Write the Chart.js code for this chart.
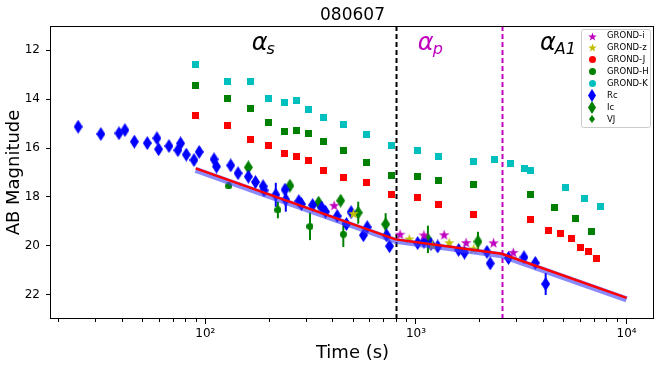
<!DOCTYPE html>
<html>
<head>
<meta charset="utf-8">
<script src="https://cdn.jsdelivr.net/npm/chart.js@4.4.1/dist/chart.umd.min.js"></script>
<style>
  html, body { margin: 0; padding: 0; background: #fff; }
</style>
</head>
<body>
<canvas id="lc" width="664" height="367"></canvas>
<script>
const chartTitle = '080607';
const xTickValues = [100, 1000, 10000];
const yTickValues = [12, 14, 16, 18, 20, 22];
const legendLabels = ['GROND-i', 'GROND-z', 'GROND-J', 'GROND-H', 'GROND-K', 'Rc', 'Ic', 'VJ'];

// GROND
const iTime = [409, 841, 1091, 1361, 1730, 2335, 2898];
const iMag = [18.34, 19.52, 19.55, 19.54, 19.86, 19.87, 20.26];
const zTime = [505, 929, 1197, 1439, 1879];
const zMag = [18.67, 19.71, 19.96, 19.86, 20.11];
const jTime = [90, 128, 163, 199, 237, 272, 308, 363, 454, 585, 763, 1019, 1276, 1884, 3505, 4249, 4831, 5449, 6030, 6608, 7211];
const jMag = [14.68, 15.10, 15.64, 15.89, 16.22, 16.34, 16.53, 16.93, 17.21, 17.42, 17.91, 18.04, 18.30, 18.71, 18.93, 19.38, 19.51, 19.71, 20.08, 20.24, 20.53];
const hTime = [90, 128, 163, 199, 237, 272, 308, 363, 454, 585, 763, 1019, 1276, 1884, 3505, 4535, 5733, 6829];
const hMag = [13.43, 13.96, 14.40, 14.95, 15.32, 15.29, 15.39, 15.74, 16.09, 16.58, 17.11, 17.18, 17.33, 17.50, 17.91, 18.44, 18.86, 19.39];
const kTime = [90, 128, 163, 199, 237, 272, 308, 363, 454, 585, 763, 1019, 1276, 1884, 2363, 2805, 3259, 3505, 5141, 6346, 7500];
const kMag = [12.60, 13.28, 13.27, 13.97, 14.15, 14.08, 14.42, 14.76, 15.06, 15.44, 15.91, 16.12, 16.34, 16.57, 16.46, 16.62, 16.83, 16.90, 17.62, 18.07, 18.37];

// other optical
const rcTime = [24.9, 31.9, 38.9, 41.5, 46.0, 53.0, 58.9, 60.0, 67.2, 76.3, 74.1, 81.2, 88.3, 93.5, 110, 113, 132, 143, 160, 173, 188, 190, 216, 239, 241, 278, 286, 323, 357, 372, 423, 492, 468, 587, 563, 726, 749, 1019, 1091, 1178, 1269, 1595, 1700, 2174, 2253, 2750, 3258, 3686, 4130];
const rcMag = [15.13, 15.43, 15.40, 15.27, 15.74, 15.80, 15.60, 16.05, 15.92, 15.81, 16.09, 16.27, 16.49, 16.16, 16.46, 16.76, 16.71, 17.03, 17.17, 17.39, 17.56, 17.73, 17.91, 17.70, 18.11, 18.17, 18.29, 18.33, 18.43, 18.60, 18.78, 18.62, 19.10, 19.23, 19.56, 19.57, 20.01, 19.88, 19.82, 19.92, 20.02, 20.16, 20.27, 20.24, 20.71, 20.49, 20.46, 20.69, 21.55];
const rcErr = [0, 0, 0, 0, 0, 0, 0, 0, 0, 0, 0, 0, 0, 0, 0, 0, 0, 0, 0, 0, 0, 0, 0.49, 0, 0.49, 0, 0, 0, 0, 0, 0, 0, 0, 0, 0, 0, 0, 0, 0, 0, 0, 0, 0, 0, 0, 0, 0, 0.2, 0.45];
const icTime = [160, 252, 345, 439, 532, 718, 1140, 1970];
const icMag = [16.79, 17.54, 18.23, 18.15, 18.64, 19.11, 19.73, 19.82];
const icErr = [0, 0, 0, 0, 0.45, 0.45, 0.56, 0.4];
const vjTime = [129, 221, 314, 452];
const vjMag = [17.55, 18.53, 19.20, 19.52];
const vjErr = [0, 0.34, 0.56, 0.52];

// broken power-law fit
const fitTime = [90, 800, 2550, 10000];
const fitMag = [16.83, 19.73, 20.32, 22.12];
const bandMag = [16.89, 19.79, 20.38, 22.18];
const breakTimes = [800, 2550];

const FONT = "'DejaVu Sans', sans-serif";
Chart.defaults.font.family = FONT;
Chart.defaults.color = '#000';

const colI = '#bf00bf', colZ = '#bfbf00', colJ = '#ff0000', colH = '#008000', colK = '#00bfbf', colRc = '#0000ff', colGreen = '#008000';

function marker(shape, color, w, h) {
    const c = document.createElement('canvas');
    c.width = w; c.height = h;
    const g = c.getContext('2d');
    g.fillStyle = color;
    g.beginPath();
    if (shape === 'diamond') {
        g.moveTo(w / 2, 0); g.lineTo(w, h / 2); g.lineTo(w / 2, h); g.lineTo(0, h / 2);
    } else if (shape === 'star') {
        const R = w / 2, r = R * 0.4, cx = w / 2, cy = h / 2 + h * 0.05;
        for (let i = 0; i < 10; i++) {
            const a = -Math.PI / 2 + i * Math.PI / 5, rr = i % 2 ? r : R;
            g.lineTo(cx + rr * Math.cos(a), cy + rr * Math.sin(a));
        }
    } else if (shape === 'square') {
        g.rect(0, 0, w, h);
    } else {
        g.arc(w / 2, h / 2, w / 2, 0, 2 * Math.PI);
    }
    g.closePath();
    g.fill();
    return c;
}

const pts = (t, m) => t.map((v, i) => ({ x: v, y: m[i] }));

function scatterSet(label, t, m, style, color, errs) {
    return { label, data: pts(t, m), pointStyle: style, pointRadius: 5, showLine: false, errs, errColor: color };
}

const legendMarkers = [
    marker('star', colI, 9, 9), marker('star', colZ, 9, 9),
    marker('circle', colJ, 7, 7), marker('circle', colH, 7, 7), marker('circle', colK, 7, 7),
    marker('diamond', colRc, 8, 13), marker('diamond', colGreen, 8, 13), marker('diamond', colGreen, 6, 8)
];

const sup = { '0': '⁰', '1': '¹', '2': '²', '3': '³', '4': '⁴', '5': '⁵' };
const minorX = [20, 30, 40, 50, 60, 70, 80, 90, 200, 300, 400, 500, 600, 700, 800, 900, 2000, 3000, 4000, 5000, 6000, 7000, 8000, 9000];

const overlay = {
    id: 'overlay',
    beforeDatasetsDraw(chart) {
        const { ctx, chartArea: a, scales: { x, y } } = chart;
        ctx.save();
        ctx.beginPath();
        ctx.rect(a.left, a.top, a.right - a.left, a.bottom - a.top);
        ctx.clip();
        // break times
        const breakCols = ['#000', colI];
        breakTimes.forEach((t, i) => {
            const px = Math.round(x.getPixelForValue(t)) + 0.5;
            ctx.strokeStyle = breakCols[i];
            ctx.lineWidth = 2;
            ctx.setLineDash([5, 3]);
            ctx.beginPath();
            ctx.moveTo(px, a.top);
            ctx.lineTo(px, a.bottom);
            ctx.stroke();
        });
        ctx.setLineDash([]);
        // error bars
        chart.data.datasets.forEach(ds => {
            if (!ds.errs) return;
            ctx.strokeStyle = ds.errColor;
            ctx.lineWidth = 2;
            ds.data.forEach((p, i) => {
                const e = ds.errs[i];
                if (!e) return;
                const px = x.getPixelForValue(p.x);
                ctx.beginPath();
                ctx.moveTo(px, y.getPixelForValue(p.y - e));
                ctx.lineTo(px, y.getPixelForValue(p.y + e));
                ctx.stroke();
            });
        });
        ctx.restore();
    },
    afterDraw(chart) {
        const { ctx, chartArea: a, scales: { x } } = chart;
        ctx.save();
        // frame
        ctx.strokeStyle = '#000';
        ctx.lineWidth = 1;
        ctx.strokeRect(a.left - 0.5, a.top + 0.5, a.right - a.left, a.bottom - a.top - 1);
        // minor ticks
        minorX.forEach(v => {
            const px = Math.round(x.getPixelForValue(v)) + 0.5;
            ctx.beginPath();
            ctx.moveTo(px, a.bottom);
            ctx.lineTo(px, a.bottom + 3);
            ctx.stroke();
        });
        // title
        ctx.fillStyle = '#000';
        ctx.font = '17px ' + FONT;
        ctx.textAlign = 'center';
        ctx.textBaseline = 'alphabetic';
        ctx.fillText(chartTitle, (a.left + a.right) / 2, 20);
        // slope labels
        const slopes = [
            { sub: 's', t: 166, color: '#000' },
            { sub: 'p', t: 1021, color: colI },
            { sub: 'A1', t: 3880, color: '#000' }
        ];
        ctx.textAlign = 'left';
        slopes.forEach(s => {
            const px = x.getPixelForValue(s.t);
            ctx.fillStyle = s.color;
            ctx.font = 'italic 24px ' + FONT;
            ctx.fillText('α', px, a.top + 24);
            const w = ctx.measureText('α').width;
            ctx.font = 'italic 16px ' + FONT;
            ctx.fillText(s.sub, px + w - 1, a.top + 28);
        });
        // legend
        const lx = a.right - 73, ly = a.top + 3, lw = 69, lh = 98;
        ctx.fillStyle = 'rgba(255,255,255,0.85)';
        ctx.strokeStyle = '#cccccc';
        ctx.beginPath();
        ctx.roundRect(lx + 0.5, ly + 0.5, lw, lh, 2);
        ctx.fill();
        ctx.stroke();
        ctx.font = '8.5px ' + FONT;
        ctx.fillStyle = '#000';
        ctx.textBaseline = 'middle';
        legendLabels.forEach((lab, i) => {
            const ry = ly + 7 + i * 11.9;
            const m = legendMarkers[i];
            ctx.drawImage(m, Math.round(lx + 11 - m.width / 2), Math.round(ry - m.height / 2));
            ctx.fillText(lab, lx + 26, ry);
        });
        ctx.restore();
    }
};

new Chart(document.getElementById('lc'), {
    type: 'scatter',
    data: {
        datasets: [
            { label: 'fit', data: pts(fitTime, fitMag), showLine: true, pointRadius: 0, borderColor: '#ff0000', borderWidth: 2.5 },
            { label: 'band', data: pts(fitTime, bandMag), showLine: true, pointRadius: 0, borderColor: 'rgba(60,60,255,0.6)', borderWidth: 6 },
            scatterSet('GROND-i', iTime, iMag, marker('star', colI, 11, 11), colI),
            scatterSet('GROND-z', zTime, zMag, marker('star', colZ, 11, 11), colZ),
            scatterSet('Rc', rcTime, rcMag, marker('diamond', colRc, 9, 14), colRc, rcErr),
            scatterSet('Ic', icTime, icMag, marker('diamond', colGreen, 9, 14), colGreen, icErr),
            scatterSet('VJ', vjTime, vjMag, marker('circle', colGreen, 7, 7), colGreen, vjErr),
            scatterSet('GROND-J', jTime, jMag, marker('square', colJ, 7, 7), colJ),
            scatterSet('GROND-H', hTime, hMag, marker('square', colH, 7, 7), colH),
            scatterSet('GROND-K', kTime, kMag, marker('square', colK, 7, 7), colK)
        ]
    },
    options: {
        responsive: false,
        animation: false,
        devicePixelRatio: 1,
        layout: { padding: { top: 26, right: 10, left: 0, bottom: 0 } },
        plugins: {
            legend: { display: false },
            tooltip: { enabled: false }
        },
        scales: {
            x: {
                type: 'logarithmic',
                min: 18.5,
                max: 13500,
                afterFit: s => { s.height = 48; },
                afterBuildTicks: s => { s.ticks = xTickValues.map(v => ({ value: v })); },
                ticks: {
                    autoSkip: false,
                    maxRotation: 0,
                    padding: 3,
                    font: { size: 12 },
                    callback: v => '10' + String(Math.round(Math.log10(v))).split('').map(d => sup[d]).join('')
                },
                grid: { drawOnChartArea: false, tickLength: 5, tickColor: '#000' },
                border: { display: false },
                title: { display: true, text: 'Time (s)', font: { size: 18 }, padding: { top: 0, bottom: 3 } }
            },
            y: {
                reverse: true,
                min: 11.02,
                max: 22.98,
                afterFit: s => { s.width = 51; },
                afterBuildTicks: s => { s.ticks = yTickValues.map(v => ({ value: v })); },
                ticks: { padding: 6, font: { size: 12 } },
                grid: { drawOnChartArea: false, tickLength: 5, tickColor: '#000' },
                border: { display: false },
                title: { display: true, text: 'AB Magnitude', font: { size: 18 }, padding: { top: 4, bottom: 0 } }
            }
        }
    },
    plugins: [overlay]
});
</script>
</body>
</html>
